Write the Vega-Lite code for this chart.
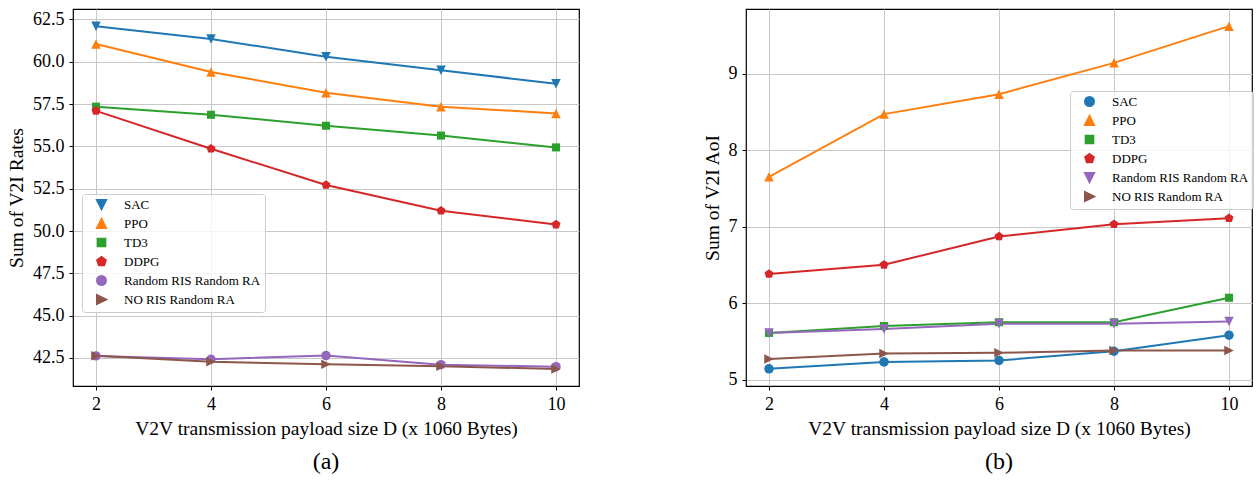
{
  "$schema": "https://vega.github.io/schema/vega-lite/v6.json",
  "padding": {"left": 5, "top": 8, "right": 0, "bottom": 0},
  "background": "white",
  "spacing": 121,
  "datasets": {
    "a": [
      {"D": 2, "method": "SAC", "v": 62.1}, {"D": 4, "method": "SAC", "v": 61.35}, {"D": 6, "method": "SAC", "v": 60.3}, {"D": 8, "method": "SAC", "v": 59.5}, {"D": 10, "method": "SAC", "v": 58.7},
      {"D": 2, "method": "PPO", "v": 61.05}, {"D": 4, "method": "PPO", "v": 59.4}, {"D": 6, "method": "PPO", "v": 58.17}, {"D": 8, "method": "PPO", "v": 57.35}, {"D": 10, "method": "PPO", "v": 56.95},
      {"D": 2, "method": "TD3", "v": 57.35}, {"D": 4, "method": "TD3", "v": 56.87}, {"D": 6, "method": "TD3", "v": 56.22}, {"D": 8, "method": "TD3", "v": 55.64}, {"D": 10, "method": "TD3", "v": 54.94},
      {"D": 2, "method": "DDPG", "v": 57.1}, {"D": 4, "method": "DDPG", "v": 54.86}, {"D": 6, "method": "DDPG", "v": 52.72}, {"D": 8, "method": "DDPG", "v": 51.2}, {"D": 10, "method": "DDPG", "v": 50.38},
      {"D": 2, "method": "Random RIS Random RA", "v": 42.62}, {"D": 4, "method": "Random RIS Random RA", "v": 42.42}, {"D": 6, "method": "Random RIS Random RA", "v": 42.64}, {"D": 8, "method": "Random RIS Random RA", "v": 42.1}, {"D": 10, "method": "Random RIS Random RA", "v": 41.98},
      {"D": 2, "method": "NO RIS Random RA", "v": 42.63}, {"D": 4, "method": "NO RIS Random RA", "v": 42.28}, {"D": 6, "method": "NO RIS Random RA", "v": 42.12}, {"D": 8, "method": "NO RIS Random RA", "v": 42.0}, {"D": 10, "method": "NO RIS Random RA", "v": 41.85}
    ],
    "b": [
      {"D": 2, "method": "SAC", "v": 5.14}, {"D": 4, "method": "SAC", "v": 5.23}, {"D": 6, "method": "SAC", "v": 5.25}, {"D": 8, "method": "SAC", "v": 5.37}, {"D": 10, "method": "SAC", "v": 5.58},
      {"D": 2, "method": "PPO", "v": 7.65}, {"D": 4, "method": "PPO", "v": 8.47}, {"D": 6, "method": "PPO", "v": 8.73}, {"D": 8, "method": "PPO", "v": 9.14}, {"D": 10, "method": "PPO", "v": 9.62},
      {"D": 2, "method": "TD3", "v": 5.61}, {"D": 4, "method": "TD3", "v": 5.7}, {"D": 6, "method": "TD3", "v": 5.75}, {"D": 8, "method": "TD3", "v": 5.75}, {"D": 10, "method": "TD3", "v": 6.07},
      {"D": 2, "method": "DDPG", "v": 6.38}, {"D": 4, "method": "DDPG", "v": 6.5}, {"D": 6, "method": "DDPG", "v": 6.87}, {"D": 8, "method": "DDPG", "v": 7.03}, {"D": 10, "method": "DDPG", "v": 7.11},
      {"D": 2, "method": "Random RIS Random RA", "v": 5.61}, {"D": 4, "method": "Random RIS Random RA", "v": 5.66}, {"D": 6, "method": "Random RIS Random RA", "v": 5.73}, {"D": 8, "method": "Random RIS Random RA", "v": 5.73}, {"D": 10, "method": "Random RIS Random RA", "v": 5.76},
      {"D": 2, "method": "NO RIS Random RA", "v": 5.27}, {"D": 4, "method": "NO RIS Random RA", "v": 5.34}, {"D": 6, "method": "NO RIS Random RA", "v": 5.35}, {"D": 8, "method": "NO RIS Random RA", "v": 5.38}, {"D": 10, "method": "NO RIS Random RA", "v": 5.38}
    ]
  },
  "resolve": {
    "scale": {"color": "independent", "shape": "independent", "x": "independent", "y": "independent"},
    "legend": {"color": "independent", "shape": "independent"}
  },
  "hconcat": [
    {
      "width": 506,
      "height": 377,
      "data": {"name": "a"},
      "title": {"text": "(a)", "orient": "bottom", "anchor": "middle", "frame": "group", "fontSize": 24, "font": "Liberation Serif", "fontWeight": "normal", "color": "black", "offset": 12},
      "encoding": {
        "x": {"field": "D", "type": "quantitative", "scale": {"domain": [1.6, 10.4], "nice": false, "zero": false}, "axis": {"values": [2, 4, 6, 8, 10], "title": "V2V transmission payload size D (x 1060 Bytes)"}},
        "y": {"field": "v", "type": "quantitative", "scale": {"domain": [40.84, 63.12], "nice": false, "zero": false}, "axis": {"values": [42.5, 45, 47.5, 50, 52.5, 55, 57.5, 60, 62.5], "format": ".1f", "title": "Sum of V2I Rates"}}
      },
      "layer": [
        {"mark": {"type": "line", "strokeWidth": 2},
         "encoding": {"color": {
          "field": "method", "type": "nominal",
          "scale": {"domain": ["SAC", "PPO", "TD3", "DDPG", "Random RIS Random RA", "NO RIS Random RA"], "range": ["#1f77b4", "#ff7f0e", "#2ca02c", "#d62728", "#9467bd", "#8c564b"]},
          "legend": {
            "orient": "none", "legendX": 9, "legendY": 185, "title": null,
            "symbolSize": 81, "symbolOffset": 9, "symbolStrokeWidth": 2,
            "labelFont": "Liberation Serif", "labelFontSize": 13, "labelColor": "black", "labelOffset": 16,
            "rowPadding": 2, "padding": 4, "fillColor": "rgba(255,255,255,0.8)", "strokeColor": "#cccccc", "cornerRadius": 3
          }
         }}},
        {"mark": {"type": "point", "filled": true, "opacity": 1, "size": 90},
         "encoding": {
           "color": {"field": "method", "type": "nominal", "legend": null,
             "scale": {"domain": ["SAC", "PPO", "TD3", "DDPG", "Random RIS Random RA", "NO RIS Random RA"], "range": ["#1f77b4", "#ff7f0e", "#2ca02c", "#d62728", "#9467bd", "#8c564b"]}},
           "shape": {"field": "method", "type": "nominal", "legend": null,
           "scale": {"domain": ["SAC", "PPO", "TD3", "DDPG", "Random RIS Random RA", "NO RIS Random RA"],
                     "range": ["M-1,-1H1L0,1Z", "M0,-1L1,1H-1Z", "M-0.85,-0.85H0.85V0.85H-0.85Z", "M0,-1L0.951,-0.309L0.588,0.809L-0.588,0.809L-0.951,-0.309Z", "circle", "M1,0L-1,1V-1Z"]}}}}
      ]
    },
    {
      "width": 506,
      "height": 377,
      "data": {"name": "b"},
      "title": {"text": "(b)", "orient": "bottom", "anchor": "middle", "frame": "group", "fontSize": 24, "font": "Liberation Serif", "fontWeight": "normal", "color": "black", "offset": 12},
      "encoding": {
        "x": {"field": "D", "type": "quantitative", "scale": {"domain": [1.6, 10.4], "nice": false, "zero": false}, "axis": {"values": [2, 4, 6, 8, 10], "title": "V2V transmission payload size D (x 1060 Bytes)"}},
        "y": {"field": "v", "type": "quantitative", "scale": {"domain": [4.916, 9.844], "nice": false, "zero": false}, "axis": {"values": [5, 6, 7, 8, 9], "format": "d", "title": "Sum of V2I AoI"}}
      },
      "layer": [
        {"mark": {"type": "line", "strokeWidth": 2},
         "encoding": {"color": {
          "field": "method", "type": "nominal",
          "scale": {"domain": ["SAC", "PPO", "TD3", "DDPG", "Random RIS Random RA", "NO RIS Random RA"], "range": ["#1f77b4", "#ff7f0e", "#2ca02c", "#d62728", "#9467bd", "#8c564b"]},
          "legend": {
            "orient": "none", "legendX": 324, "legendY": 82, "title": null,
            "symbolSize": 81, "symbolOffset": 9, "symbolStrokeWidth": 2,
            "labelFont": "Liberation Serif", "labelFontSize": 13, "labelColor": "black", "labelOffset": 16,
            "rowPadding": 2, "padding": 4, "fillColor": "rgba(255,255,255,0.8)", "strokeColor": "#cccccc", "cornerRadius": 3
          }
         }}},
        {"mark": {"type": "point", "filled": true, "opacity": 1, "size": 90},
         "encoding": {
           "color": {"field": "method", "type": "nominal", "legend": null,
             "scale": {"domain": ["SAC", "PPO", "TD3", "DDPG", "Random RIS Random RA", "NO RIS Random RA"], "range": ["#1f77b4", "#ff7f0e", "#2ca02c", "#d62728", "#9467bd", "#8c564b"]}},
           "shape": {"field": "method", "type": "nominal", "legend": null,
           "scale": {"domain": ["SAC", "PPO", "TD3", "DDPG", "Random RIS Random RA", "NO RIS Random RA"],
                     "range": ["circle", "M0,-1L1,1H-1Z", "M-0.85,-0.85H0.85V0.85H-0.85Z", "M0,-1L0.951,-0.309L0.588,0.809L-0.588,0.809L-0.951,-0.309Z", "M-1,-1H1L0,1Z", "M1,0L-1,1V-1Z"]}}}}
      ]
    }
  ],
  "config": {
    "font": "Liberation Serif",
    "view": {"stroke": "black", "strokeWidth": 1.2},
    "axis": {
      "labelFont": "Liberation Serif", "titleFont": "Liberation Serif",
      "labelFontSize": 18, "titleFontSize": 19.5,
      "labelColor": "black", "titleColor": "black", "titleFontWeight": "normal",
      "domain": false, "tickColor": "black", "tickSize": 4, "tickWidth": 1,
      "labelPadding": 5, "titlePadding": 6,
      "gridColor": "#c8c8c8", "gridWidth": 1, "gridOpacity": 1
    }
  }
}
